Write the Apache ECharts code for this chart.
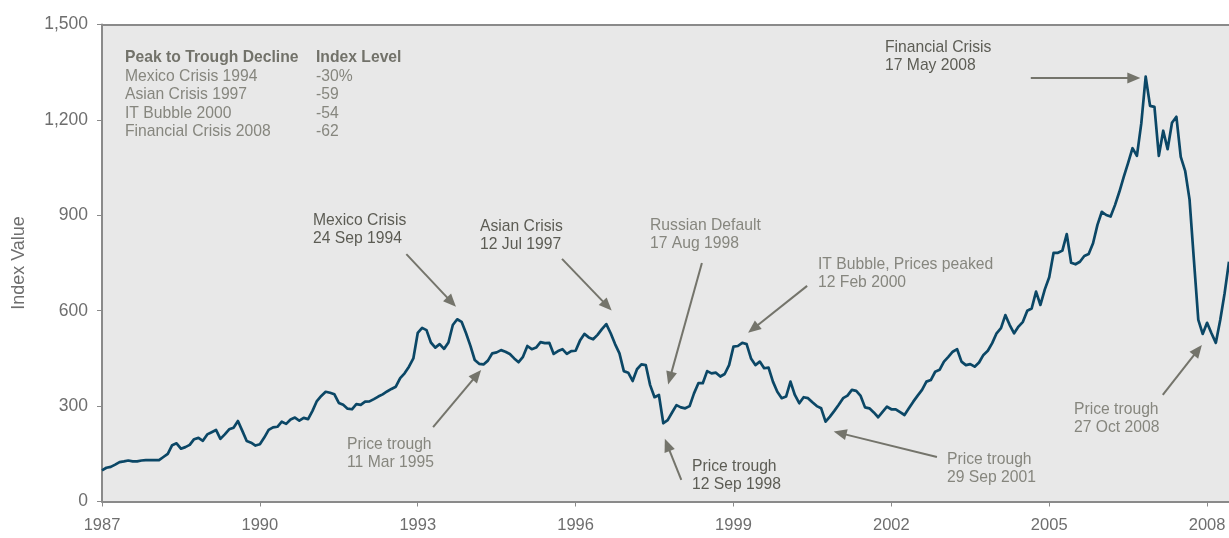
<!DOCTYPE html>
<html>
<head>
<meta charset="utf-8">
<script src="https://cdn.jsdelivr.net/npm/echarts@6/dist/echarts.min.js"></script>
<style>
  html, body { margin: 0; padding: 0; background: #ffffff; }
  #chart { width: 1229px; height: 538px; }
</style>
</head>
<body>
<div id="chart"></div>
<script>
// Monthly index level, Jan 1987 onward (one value per month)
const startYear = 1987;
const yearLabels = ['1987', '1990', '1993', '1996', '1999', '2002', '2005', '2008'];
const yTickStep = 300;
const yMax = 1500;

const indexValues = [
  98, 106, 109, 116, 124, 126, 129, 126, 126, 129, 130, 130,
  130, 130, 140, 150, 177, 183, 166, 171, 178, 196, 200, 191,
  211, 218, 225, 197, 211, 227, 232, 253, 222, 190, 185, 176,
  180, 201, 225, 233, 235, 251, 244, 258, 264, 254, 263, 259,
  285, 316, 332, 345, 342, 337, 310, 304, 292, 290, 306, 304,
  314, 315, 322, 330, 337, 346, 354, 361, 388, 403, 424, 450,
  530, 546, 539, 500, 484, 495, 480, 500, 555, 573, 565, 530,
  490, 445, 433, 431, 443, 466, 469, 476, 471, 464, 450, 438,
  455, 489, 479, 484, 501, 498, 499, 464, 473, 479, 464, 473,
  474, 506, 527, 516, 510, 524, 542, 558, 529, 495, 466, 410,
  405, 379, 416, 431, 429, 366, 328, 335, 246, 256, 280, 303,
  296, 293, 300, 340, 372, 372, 410, 403, 405, 393, 401, 429,
  487, 489, 499, 495, 450, 429, 440, 419, 421, 377, 345, 325,
  330, 377, 335, 309, 328, 325, 312, 300, 293, 251, 267, 285,
  304, 325, 333, 351, 348, 332, 296, 293, 280, 265, 282, 298,
  290, 290, 281, 272, 293, 314, 333, 351, 377, 382, 408, 414,
  440, 455, 471, 479, 440, 429, 432, 424, 437, 461, 474, 498,
  529, 545, 586, 555, 529, 550, 565, 600, 607, 660, 618, 667,
  705, 782, 782, 789, 841, 751, 746, 754, 772, 778, 812, 870,
  911, 901, 896, 932, 974, 1021, 1065, 1111, 1087, 1189, 1336, 1244,
  1241, 1087, 1166, 1108, 1191, 1210, 1084, 1040, 950, 759, 571, 527,
  562, 529, 499, 571, 655, 754
];

// Summary table
const tableHeader = ['Peak to Trough Decline', 'Index Level'];
const tableEvents = ['Mexico Crisis 1994', 'Asian Crisis 1997', 'IT Bubble 2000', 'Financial Crisis 2008'];
const tableDeclines = ['-30%', '-59', '-54', '-62'];

// Event notes and their arrows (arrow ends in data units: month index, index value)
const notes = [
  { text: 'Financial Crisis\n17 May 2008', left: 885, top: 38, dark: true },
  { text: 'Mexico Crisis\n24 Sep 1994', left: 313, top: 211, dark: true },
  { text: 'Asian Crisis\n12 Jul 1997', left: 480, top: 217, dark: true },
  { text: 'Russian Default\n17 Aug 1998', left: 650, top: 216 },
  { text: 'IT Bubble, Prices peaked\n12 Feb 2000', left: 818, top: 255 },
  { text: 'Price trough\n11 Mar 1995', left: 347, top: 435 },
  { text: 'Price trough\n12 Sep 1998', left: 692, top: 457, dark: true },
  { text: 'Price trough\n29 Sep 2001', left: 947, top: 450 },
  { text: 'Price trough\n27 Oct 2008', left: 1074, top: 400 }
];
const arrows = [
  [[69.4, 778], [79.7, 627]],
  [[104.9, 763], [115.2, 615]],
  [[136.8, 750], [129.5, 388]],
  [[160.8, 678], [148.5, 543]],
  [[75.5, 234], [85.5, 398]],
  [[132.1, 68], [128.9, 178]],
  [[190.4, 140], [168.3, 215]],
  [[241.9, 335], [249.9, 476]],
  [[211.8, 1332], [235.3, 1332]]
];

const FONT = '"Liberation Sans", Arial, Helvetica, sans-serif';
const axisGray = '#8a8a8a';
const labelGray = '#6e6e6e';
const noteGray = '#86867e';
const noteDark = '#5c5c54';
const arrowGray = '#74746b';
const TEXT_SIZE = 15.7;

const lastIndex = indexValues.length - 1;

const chart = echarts.init(document.getElementById('chart'), null, { renderer: 'canvas' });

const graphics = [];
// table
graphics.push({
  type: 'text', left: 125, top: 50,
  style: { text: tableHeader[0], font: 'bold ' + TEXT_SIZE + 'px ' + FONT, fill: '#72726a' }
});
graphics.push({
  type: 'text', left: 316, top: 50,
  style: { text: tableHeader[1], font: 'bold ' + TEXT_SIZE + 'px ' + FONT, fill: '#72726a' }
});
tableEvents.forEach((t, i) => {
  graphics.push({
    type: 'text', left: 125, top: 68.5 + i * 18.5,
    style: { text: t, font: TEXT_SIZE + 'px ' + FONT, fill: noteGray }
  });
  graphics.push({
    type: 'text', left: 316, top: 68.5 + i * 18.5,
    style: { text: tableDeclines[i], font: TEXT_SIZE + 'px ' + FONT, fill: noteGray }
  });
});
// notes
notes.forEach(n => {
  graphics.push({
    type: 'text', left: n.left, top: n.top,
    style: {
      text: n.text,
      font: TEXT_SIZE + 'px ' + FONT,
      fill: n.dark ? noteDark : noteGray,
      lineHeight: 18.5
    }
  });
});

chart.setOption({
  animation: false,
  backgroundColor: '#ffffff',
  grid: {
    left: 102, right: 0, top: 24.5, bottom: 36.5,
    show: true, backgroundColor: '#e8e8e8', borderWidth: 0
  },
  xAxis: [{
    type: 'value',
    min: 0, max: lastIndex, interval: 36,
    axisLine: { show: true, onZero: false, lineStyle: { color: axisGray, width: 2 } },
    axisTick: { show: true, inside: false, length: 5, lineStyle: { color: axisGray, width: 1 } },
    axisLabel: {
      margin: 15, color: labelGray, fontFamily: FONT, fontSize: 16.5,
      formatter: v => yearLabels[Math.round(v / 36)] || ''
    },
    splitLine: { show: false }
  }, {
    type: 'value', position: 'top',
    min: 0, max: lastIndex,
    axisLine: { show: true, onZero: false, lineStyle: { color: axisGray, width: 2 } },
    axisTick: { show: false }, axisLabel: { show: false }, splitLine: { show: false }
  }],
  yAxis: {
    type: 'value',
    min: 0, max: yMax, interval: yTickStep,
    name: 'Index Value', nameLocation: 'middle', nameRotate: 90, nameGap: 74,
    nameTextStyle: { color: labelGray, fontFamily: FONT, fontSize: 18 },
    axisLine: { show: true, lineStyle: { color: axisGray, width: 2 } },
    axisTick: { show: true, length: 5, lineStyle: { color: axisGray, width: 1 } },
    axisLabel: {
      margin: 14, color: labelGray, fontFamily: FONT, fontSize: 17.5,
      formatter: v => v.toLocaleString('en-US')
    },
    splitLine: { show: false }
  },
  series: [{
    type: 'line',
    data: indexValues.map((v, i) => [i, v]),
    showSymbol: false,
    symbol: 'none',
    lineStyle: { color: '#0b4766', width: 2.7, join: 'round' },
    clip: true,
    z: 3,
    markLine: {
      silent: true,
      symbol: ['none', 'triangle'],
      symbolSize: [11, 13],
      label: { show: false },
      lineStyle: { color: arrowGray, width: 2, type: 'solid' },
      itemStyle: { color: arrowGray },
      emphasis: { disabled: true },
      data: arrows.map(a => [{ coord: a[0] }, { coord: a[1] }])
    }
  }],
  graphic: graphics
});
</script>
</body>
</html>
